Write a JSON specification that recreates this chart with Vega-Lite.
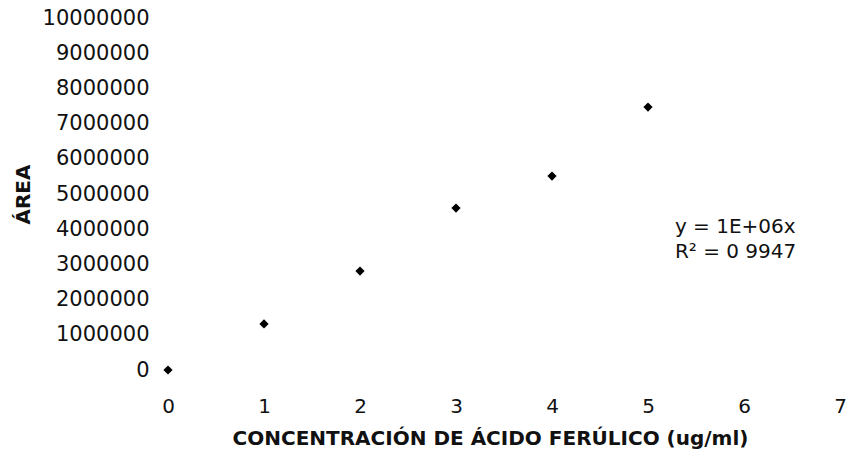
{
  "$schema": "https://vega.github.io/schema/vega-lite/v6.json",
  "width": 672,
  "height": 352,
  "autosize": "none",
  "padding": {"left": 168, "top": 18, "right": 11, "bottom": 93},
  "background": "white",
  "config": {
    "view": {"stroke": null},
    "font": "DejaVu Sans",
    "axis": {"grid": false, "domain": false, "ticks": false, "labelColor": "#111", "titleColor": "#111", "labelFont": "DejaVu Sans", "titleFont": "DejaVu Sans", "labelOverlap": false}
  },
  "encoding": {
    "x": {"field": "conc", "type": "quantitative", "scale": {"domain": [0, 7], "nice": false, "zero": false},
      "axis": {"values": [0,1,2,3,4,5,6,7], "format": "d", "labelOverlap": false, "labelFlush": false, "labelFontSize": 20, "labelPadding": 26, "title": "CONCENTRACIÓN DE ÁCIDO FERÚLICO (ug/ml)", "titleFontSize": 20, "titleFontWeight": "bold", "titlePadding": 12, "titleX": 322}},
    "y": {"field": "area", "type": "quantitative", "scale": {"domain": [0, 10000000], "nice": false},
      "axis": {"values": [0,1000000,2000000,3000000,4000000,5000000,6000000,7000000,8000000,9000000,10000000], "format": "d", "labelOverlap": false, "labelBound": false, "labelFlush": false, "labelFontSize": 21, "labelPadding": 19, "title": "ÁREA", "titleFontSize": 20, "titleFontWeight": "bold", "titlePadding": 9}}
  },
  "layer": [
    {
      "data": {"values": [
        {"conc": 0, "area": 0},
        {"conc": 1, "area": 1310000},
        {"conc": 2, "area": 2810000},
        {"conc": 3, "area": 4600000},
        {"conc": 4, "area": 5510000},
        {"conc": 5, "area": 7470000}
      ]},
      "mark": {"type": "point", "shape": "diamond", "filled": true, "color": "#000", "size": 85, "opacity": 1}
    },
    {
      "data": {"values": [
        {"conc": 5.28, "area": 4060000, "label": "y = 1E+06x"},
        {"conc": 5.28, "area": 3340000, "label": "R² = 0 9947"}
      ]},
      "mark": {"type": "text", "align": "left", "baseline": "middle", "fontSize": 20, "color": "#111", "font": "DejaVu Sans"},
      "encoding": {
        "text": {"field": "label"}
      }
    }
  ]
}
